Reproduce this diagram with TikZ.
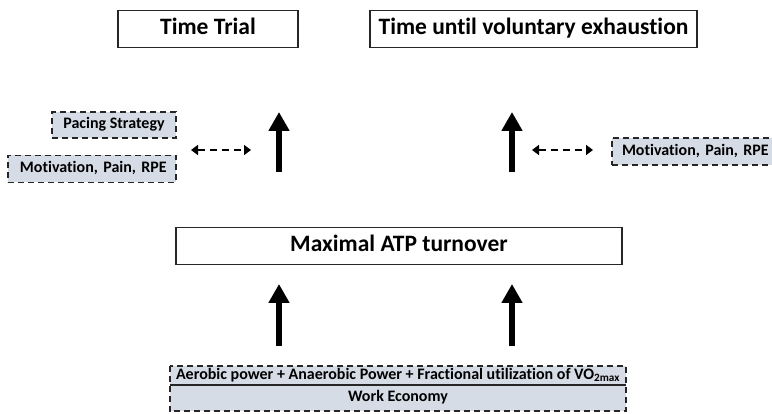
\documentclass[tikz,border=0pt]{standalone}
\usepackage{fontspec}
\setmainfont{Carlito}[Ligatures=NoCommon]
\frenchspacing
\usetikzlibrary{arrows.meta}
\definecolor{boxfill}{HTML}{D6DCE5}
\tikzset{
  solidbox/.style={draw=black!85, line width=1.8pt, fill=white, inner sep=0pt, text height=16pt, text depth=5pt, font=\bfseries\fontsize{23.5}{26}\selectfont},
  dashbox/.style={draw=black!85, line width=1.6pt, dash pattern=on 6pt off 4pt, fill=boxfill, inner sep=0pt, text height=11pt, text depth=3.5pt, font=\bfseries\fontsize{16}{18}\selectfont\frenchspacing},
  smalltext/.style={text height=11pt, text depth=3.5pt, font=\bfseries\fontsize{16}{18}\selectfont},
  bigarrow/.style={line width=6pt, -{Triangle[width=20pt,length=19pt]}},
  dasharrow/.style={line width=2.4pt, dash pattern=on 7pt off 5pt, {Triangle[width=10pt,length=7pt]}-{Triangle[width=10pt,length=7pt]}},
}
\begin{document}
\begin{tikzpicture}[x=1pt,y=-1pt]
\useasboundingbox (0,0) rectangle (772,414);
% top boxes
\node[solidbox, minimum width=180pt, minimum height=37pt] (tt) at (208,29) {Time Trial};
\node[solidbox, minimum width=327pt, minimum height=37pt] (tve) at (533.5,29) {Time until voluntary exhaustion};
% middle box
\node[solidbox, minimum width=446pt, minimum height=37pt] (atp) at (399,246) {Maximal ATP turnover};
% side dashed boxes
\node[dashbox, minimum width=124pt, minimum height=26pt] (pace) at (114,125) {Pacing Strategy};
\node[dashbox, minimum width=168pt, minimum height=27pt, text width=166pt, align=left] (motl) at (92,169) {\hspace*{11pt}Motivation, Pain, RPE};
\node[dashbox, minimum width=175pt, minimum height=27pt, text width=173pt, align=left] (motr) at (699.5,151.5) {\hspace*{9pt}Motivation, Pain, RPE};
% bottom box
\node[fill=boxfill, inner sep=0pt, minimum width=456pt, minimum height=19pt, smalltext] (aer) at (398,375.5) {Aerobic power + Anaerobic Power + Fractional utilization of VO\textsubscript{2max}};
\node[fill=boxfill, inner sep=0pt, minimum width=456pt, minimum height=26pt, smalltext] (we) at (398,398) {Work Economy};
\draw[black!85, line width=1.6pt, dash pattern=on 6pt off 4pt] (aer.north west) rectangle (we.south east);
\draw[black!85, line width=1.6pt] (aer.south west) -- (aer.south east);
% arrow coordinates
\coordinate (la1) at (279,172);
\coordinate (la2) at (279,112);
\coordinate (ra1) at (512,172);
\coordinate (ra2) at (512,112);
\coordinate (lb1) at (279,346);
\coordinate (lb2) at (279,284);
\coordinate (rb1) at (512,346);
\coordinate (rb2) at (512,284);
\coordinate (ld1) at (191,150);
\coordinate (ld2) at (251,150);
\coordinate (rd1) at (532,150);
\coordinate (rd2) at (593,150);
\draw[bigarrow] (la1) -- (la2);
\draw[bigarrow] (ra1) -- (ra2);
\draw[bigarrow] (lb1) -- (lb2);
\draw[bigarrow] (rb1) -- (rb2);
\draw[dasharrow] (ld1) -- (ld2);
\draw[dasharrow] (rd1) -- (rd2);
\end{tikzpicture}
\end{document}
